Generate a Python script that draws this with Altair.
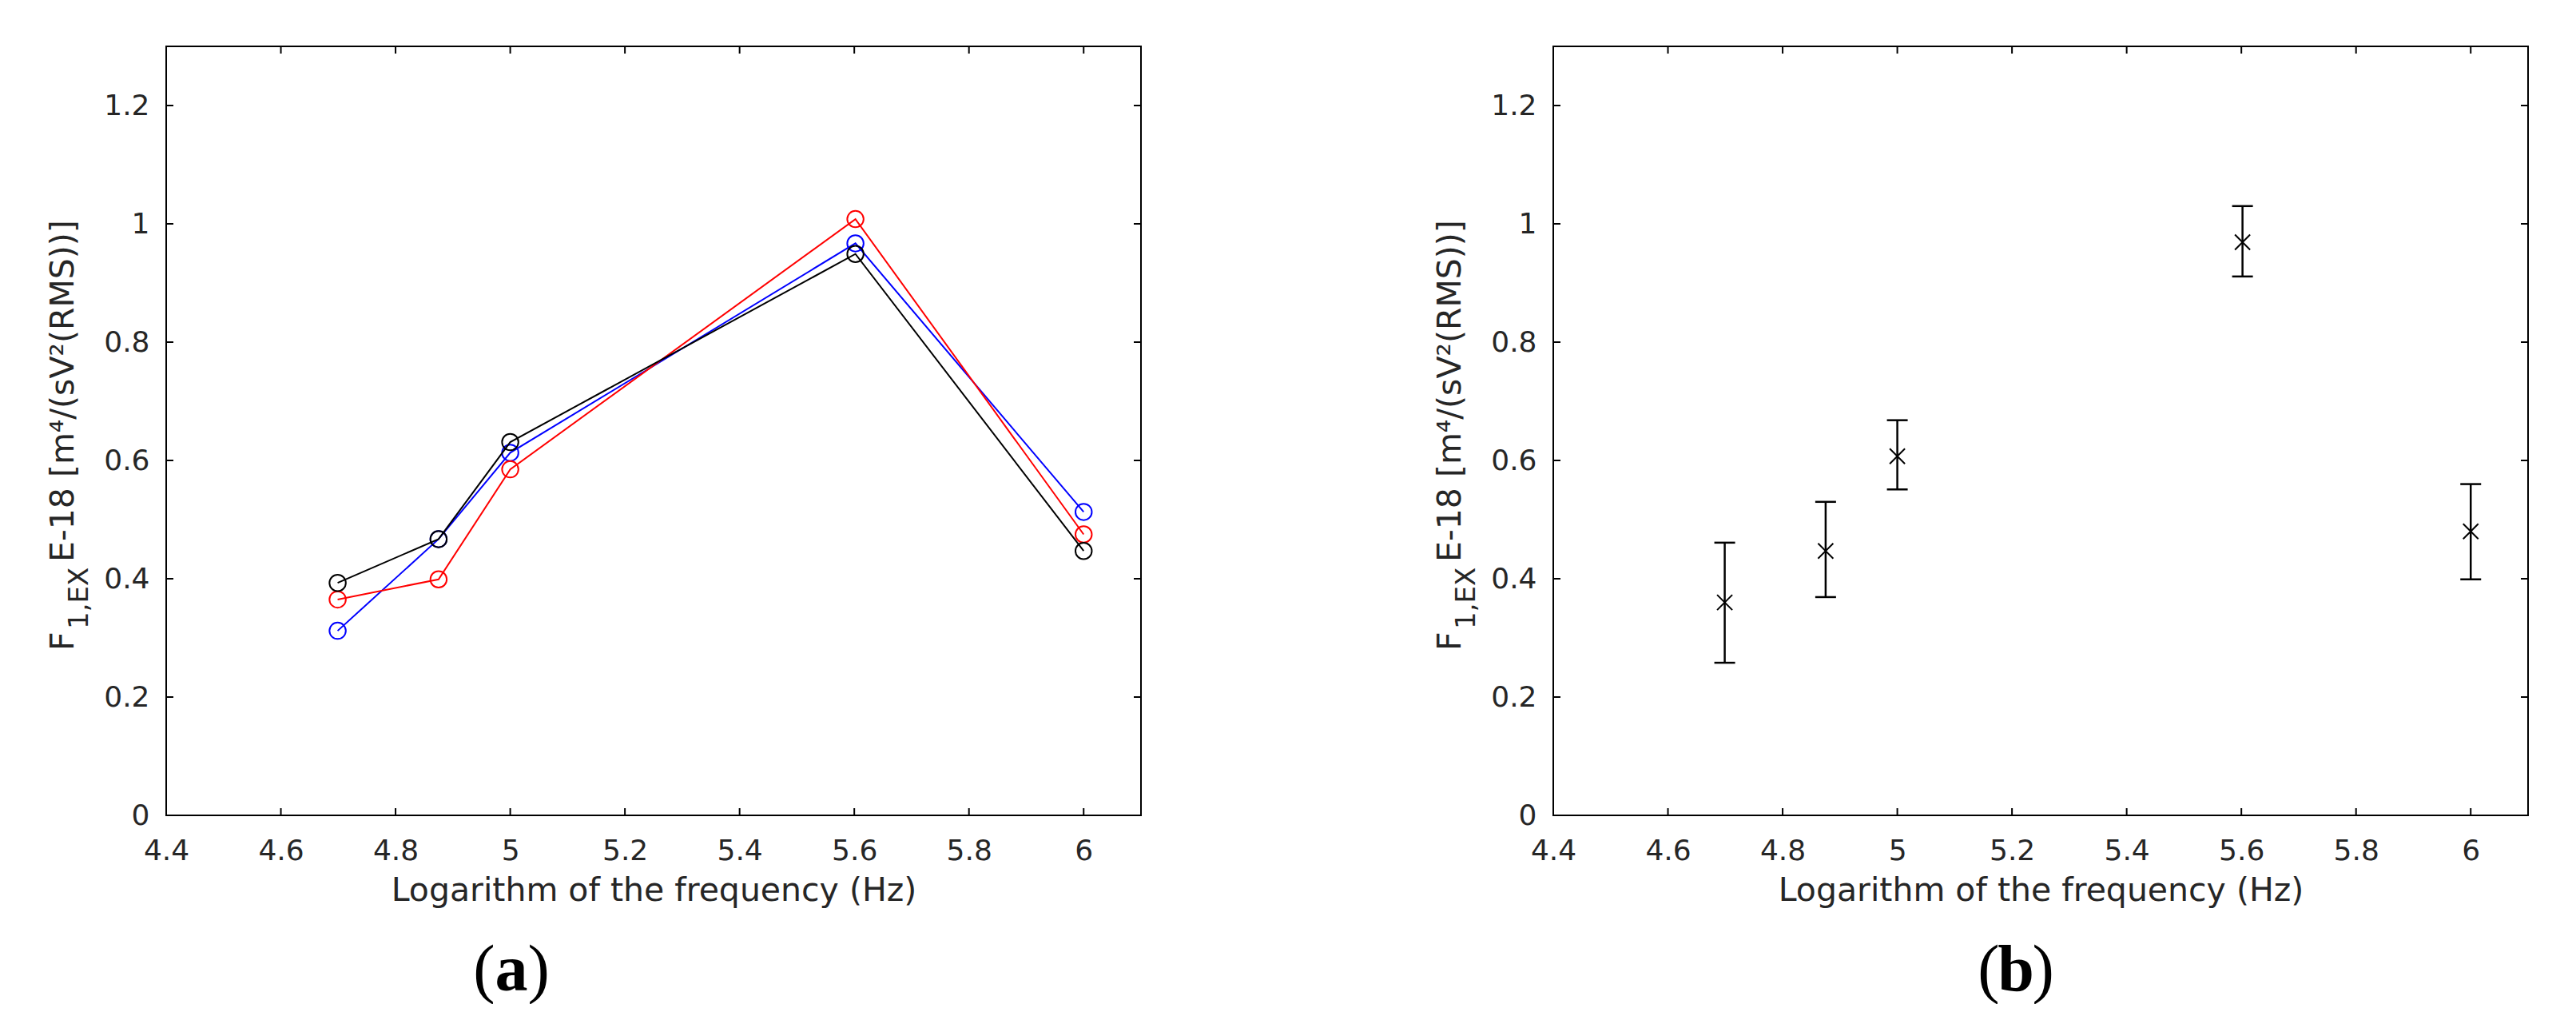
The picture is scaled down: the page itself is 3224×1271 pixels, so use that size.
import altair as alt
import pandas as pd

# ---------------- data ----------------
freq_log = [4.699, 4.875, 5.0, 5.602, 6.0]
series_black = [0.393, 0.467, 0.631, 0.949, 0.447]
series_red = [0.365, 0.399, 0.585, 1.008, 0.475]
series_blue = [0.312, 0.467, 0.613, 0.967, 0.513]

mean_vals = [0.360, 0.447, 0.607, 0.969, 0.480]
err_low = [0.258, 0.369, 0.551, 0.911, 0.399]
err_high = [0.461, 0.530, 0.668, 1.030, 0.560]

x_ticks = [4.4, 4.6, 4.8, 5.0, 5.2, 5.4, 5.6, 5.8, 6.0]
y_ticks = [0, 0.2, 0.4, 0.6, 0.8, 1.0, 1.2]
x_title = "Logarithm of the frequency (Hz)"
y_title_parts = ["F", "1,EX", " E-18 [m⁴/(sV²(RMS))]"]
panel_letters = ["a", "b"]

# ---------------- style ----------------
W, H = 1220, 962
TXT = "#262626"
SANS = "DejaVu Sans"
SERIF = "Liberation Serif"

xs = alt.Scale(domain=[4.4, 6.1], nice=False, zero=False)
ys = alt.Scale(domain=[0, 1.3], nice=False, zero=True)

xaxis = alt.Axis(values=x_ticks, format="~g", title=x_title, grid=False, ticks=False,
                 domain=False, labelFont=SANS, labelFontSize=36, labelColor=TXT,
                 labelPadding=27, labelFlush=False, labelOverlap=False,
                 titleFont=SANS, titleFontSize=41, titleColor=TXT,
                 titleFontWeight="normal", titlePadding=12)
yaxis = alt.Axis(values=y_ticks, format="~g", title=None, grid=False, ticks=False,
                 domain=False, labelFont=SANS, labelFontSize=36, labelColor=TXT,
                 labelPadding=21, labelFlush=False, labelOverlap=False)


def one(d):
    return alt.Data(values=[d])


def frame_layers():
    xt = pd.DataFrame({"x": x_ticks})
    yt = pd.DataFrame({"y": y_ticks})
    rule = dict(color="black", strokeWidth=2)
    bottom = alt.Chart(xt).mark_rule(**rule).encode(
        x=alt.X("x:Q", scale=xs, axis=xaxis), y=alt.value(H), y2=alt.value(H - 9))
    top = alt.Chart(xt).mark_rule(**rule).encode(
        x=alt.X("x:Q", scale=xs, axis=xaxis), y=alt.value(0), y2=alt.value(9))
    left = alt.Chart(yt).mark_rule(**rule).encode(
        y=alt.Y("y:Q", scale=ys, axis=yaxis), x=alt.value(0), x2=alt.value(9))
    right = alt.Chart(yt).mark_rule(**rule).encode(
        y=alt.Y("y:Q", scale=ys, axis=yaxis), x=alt.value(W - 9), x2=alt.value(W))
    anchor = alt.Chart(one({"a": 0})).mark_rule(color="white", strokeWidth=1).encode(
        x=alt.value(-198), x2=alt.value(-194), y=alt.value(-48), y2=alt.value(-48))
    return [anchor, bottom, top, left, right]


def ytitle_layers():
    specs = [(y_title_parts[0], -116, 756, 41),
             (y_title_parts[1], -98, 729, 34),
             (y_title_parts[2], -116, 645, 41)]
    out = []
    for txt, px, py, fs in specs:
        out.append(alt.Chart(one({"t": txt})).mark_text(
            angle=270, align="left", baseline="alphabetic", font=SANS,
            fontSize=fs, color=TXT).encode(
            text="t:N", x=alt.value(px), y=alt.value(py)))
    return out


def letter_layers(letter, cx):
    base = 1181
    fs = 82
    half = 0.25 * fs
    return [
        alt.Chart(one({"t": "("})).mark_text(align="right", baseline="alphabetic",
            font=SERIF, fontSize=fs, color="black").encode(
            text="t:N", x=alt.value(cx - half), y=alt.value(base)),
        alt.Chart(one({"t": letter})).mark_text(align="center", baseline="alphabetic",
            font=SERIF, fontSize=fs, fontWeight="bold", color="black").encode(
            text="t:N", x=alt.value(cx), y=alt.value(base)),
        alt.Chart(one({"t": ")"})).mark_text(align="left", baseline="alphabetic",
            font=SERIF, fontSize=fs, color="black").encode(
            text="t:N", x=alt.value(cx + half), y=alt.value(base)),
    ]


# ---------------- panel (a) ----------------
data_layers_a = []
for vals, col in [(series_blue, "#0000ff"), (series_red, "#ff0000"), (series_black, "#000000")]:
    df = pd.DataFrame({"x": freq_log, "y": vals})
    enc = dict(x=alt.X("x:Q", scale=xs, axis=xaxis), y=alt.Y("y:Q", scale=ys, axis=yaxis))
    data_layers_a.append(alt.Chart(df).mark_line(color=col, strokeWidth=2).encode(**enc))
    data_layers_a.append(alt.Chart(df).mark_point(
        shape="circle", size=420, filled=False, strokeWidth=2, color=col, opacity=1).encode(**enc))

panel_a = alt.layer(*(frame_layers() + data_layers_a + ytitle_layers()
                      + letter_layers(panel_letters[0], 432))).properties(width=W, height=H)

# ---------------- panel (b) ----------------
dfb = pd.DataFrame({"x": freq_log, "m": mean_vals, "lo": err_low, "hi": err_high})
bars = alt.Chart(dfb).mark_rule(color="black", strokeWidth=2.5).encode(
    x=alt.X("x:Q", scale=xs, axis=xaxis),
    y=alt.Y("lo:Q", scale=ys, axis=yaxis), y2="hi:Q")
cap_lo = alt.Chart(dfb).mark_tick(orient="horizontal", size=26, thickness=2.5,
                                  color="black", opacity=1).encode(
    x=alt.X("x:Q", scale=xs, axis=xaxis), y=alt.Y("lo:Q", scale=ys, axis=yaxis))
cap_hi = alt.Chart(dfb).mark_tick(orient="horizontal", size=26, thickness=2.5,
                                  color="black", opacity=1).encode(
    x=alt.X("x:Q", scale=xs, axis=xaxis), y=alt.Y("hi:Q", scale=ys, axis=yaxis))
marks = alt.Chart(dfb).mark_point(shape="M-1,-1L1,1M-1,1L1,-1", size=361, filled=False,
                                  strokeWidth=2, color="black", opacity=1).encode(
    x=alt.X("x:Q", scale=xs, axis=xaxis), y=alt.Y("m:Q", scale=ys, axis=yaxis))

panel_b = alt.layer(*(frame_layers() + [bars, cap_lo, cap_hi, marks] + ytitle_layers()
                      + letter_layers(panel_letters[1], 579))).properties(width=W, height=H)

chart = alt.hconcat(panel_a, panel_b, spacing=314).properties(
    padding=0, background="white"
).configure_view(stroke="black", strokeWidth=2)

chart.save("out.html", embed_options={"renderer": "svg", "actions": False})
